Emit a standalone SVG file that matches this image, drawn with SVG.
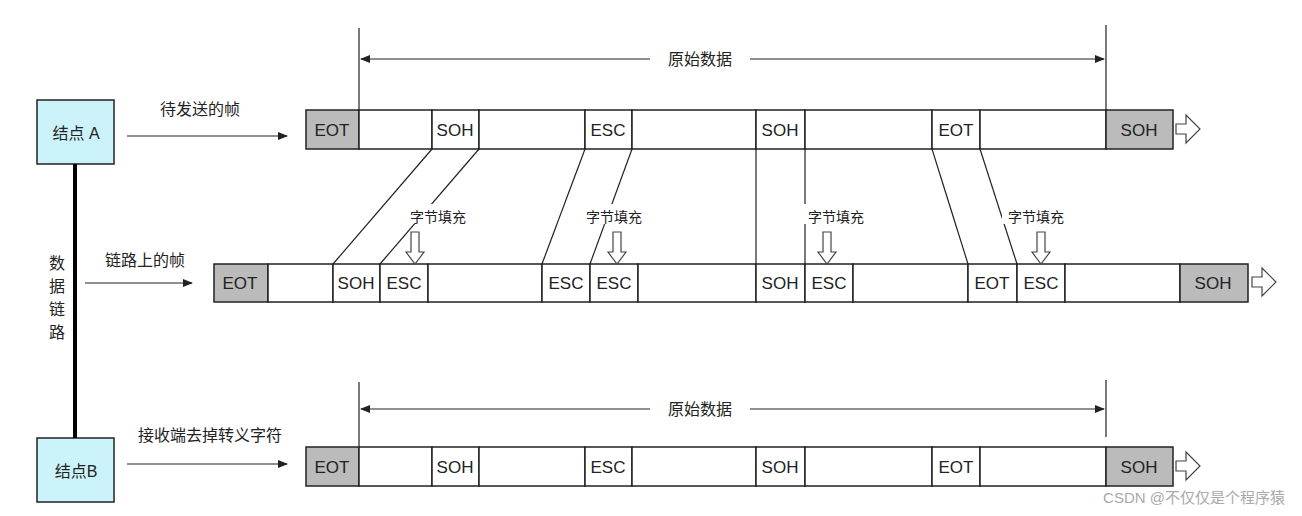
<svg xmlns="http://www.w3.org/2000/svg" width="1302" height="516" viewBox="0 0 1302 516">
<style>
text{font-family:"Liberation Sans","Noto Sans CJK SC",sans-serif;fill:#222}
.c{fill:#fff;stroke:#222;stroke-width:1.5}
.g{fill:#bbb;stroke:#222;stroke-width:1.5}
.t{font-size:17px;text-anchor:middle}
.l{stroke:#222;stroke-width:1.2;fill:none}
.h{fill:#fff;stroke:#444;stroke-width:1.2}
.s{font-size:14px;text-anchor:middle}
.cn{font-size:16px;text-anchor:middle}
</style>
<defs>
<marker id="a" markerWidth="10" markerHeight="8" refX="9" refY="4" orient="auto" markerUnits="userSpaceOnUse"><path d="M0,0 L10,4 L0,8 z" fill="#222"/></marker>
</defs>
<rect width="1302" height="516" fill="#fff"/>
<g id="nodeA"><rect x="37" y="100" width="77" height="64" fill="#ccf3fa" stroke="#222" stroke-width="1.5"/><text class="cn" x="76" y="139">结点 A</text></g>
<g id="nodeB"><rect x="37" y="438" width="77" height="64" fill="#ccf3fa" stroke="#222" stroke-width="1.5"/><text class="cn" x="76" y="477">结点B</text></g>
<g id="link"><line x1="75" y1="164" x2="75" y2="438" stroke="#000" stroke-width="4"/>
<text class="cn" x="57" y="269">数</text><text class="cn" x="57" y="292">据</text><text class="cn" x="57" y="315">链</text><text class="cn" x="57" y="338">路</text></g>
<g id="frame1">
<rect class="g" x="306" y="110" width="53" height="39"/><rect class="c" x="359" y="110" width="73" height="39"/><rect class="c" x="432" y="110" width="47" height="39"/><rect class="c" x="479" y="110" width="106" height="39"/><rect class="c" x="585" y="110" width="47" height="39"/><rect class="c" x="632" y="110" width="124" height="39"/><rect class="c" x="756" y="110" width="49" height="39"/><rect class="c" x="805" y="110" width="127" height="39"/><rect class="c" x="932" y="110" width="48" height="39"/><rect class="c" x="980" y="110" width="126" height="39"/><rect class="g" x="1106" y="110" width="67" height="39"/>
<text class="t" x="332" y="136">EOT</text><text class="t" x="455" y="136">SOH</text><text class="t" x="608" y="136">ESC</text><text class="t" x="780" y="136">SOH</text><text class="t" x="956" y="136">EOT</text><text class="t" x="1139" y="136">SOH</text>
<path class="h" d="M1176,124 h10 v-9 l14,14 l-14,14 v-9 h-10 z"/></g>
<g id="frame2">
<rect class="g" x="214" y="264" width="54" height="38"/><rect class="c" x="268" y="264" width="65" height="38"/><rect class="c" x="333" y="264" width="47" height="38"/><rect class="c" x="380" y="264" width="48" height="38"/><rect class="c" x="428" y="264" width="114" height="38"/><rect class="c" x="542" y="264" width="48" height="38"/><rect class="c" x="590" y="264" width="48" height="38"/><rect class="c" x="638" y="264" width="118" height="38"/><rect class="c" x="756" y="264" width="49" height="38"/><rect class="c" x="805" y="264" width="48" height="38"/><rect class="c" x="853" y="264" width="115" height="38"/><rect class="c" x="968" y="264" width="49" height="38"/><rect class="c" x="1017" y="264" width="48" height="38"/><rect class="c" x="1065" y="264" width="115" height="38"/><rect class="g" x="1180" y="264" width="68" height="38"/>
<text class="t" x="240" y="289">EOT</text><text class="t" x="356" y="289">SOH</text><text class="t" x="404" y="289">ESC</text><text class="t" x="566" y="289">ESC</text><text class="t" x="614" y="289">ESC</text><text class="t" x="780" y="289">SOH</text><text class="t" x="829" y="289">ESC</text><text class="t" x="992" y="289">EOT</text><text class="t" x="1041" y="289">ESC</text><text class="t" x="1213" y="289">SOH</text>
<path class="h" d="M1252,277 h10 v-9 l14,14 l-14,14 v-9 h-10 z"/></g>
<g id="frame3">
<rect class="g" x="306" y="447" width="53" height="39"/><rect class="c" x="359" y="447" width="73" height="39"/><rect class="c" x="432" y="447" width="47" height="39"/><rect class="c" x="479" y="447" width="106" height="39"/><rect class="c" x="585" y="447" width="47" height="39"/><rect class="c" x="632" y="447" width="124" height="39"/><rect class="c" x="756" y="447" width="49" height="39"/><rect class="c" x="805" y="447" width="127" height="39"/><rect class="c" x="932" y="447" width="48" height="39"/><rect class="c" x="980" y="447" width="126" height="39"/><rect class="g" x="1106" y="447" width="67" height="39"/>
<text class="t" x="332" y="473">EOT</text><text class="t" x="455" y="473">SOH</text><text class="t" x="608" y="473">ESC</text><text class="t" x="780" y="473">SOH</text><text class="t" x="956" y="473">EOT</text><text class="t" x="1139" y="473">SOH</text>
<path class="h" d="M1176,461 h10 v-9 l14,14 l-14,14 v-9 h-10 z"/></g>
<g id="connectors">
<line class="l" x1="127" y1="136" x2="287" y2="136" marker-end="url(#a)"/>
<line class="l" x1="85" y1="283" x2="192" y2="283" marker-end="url(#a)"/>
<line class="l" x1="127" y1="464" x2="287" y2="464" marker-end="url(#a)"/>
<line class="l" x1="359" y1="28" x2="359" y2="110"/><line class="l" x1="1106" y1="25" x2="1106" y2="110"/>
<line class="l" x1="650" y1="59" x2="361" y2="59" marker-end="url(#a)"/><line class="l" x1="750" y1="59" x2="1104" y2="59" marker-end="url(#a)"/>
<line class="l" x1="359" y1="382" x2="359" y2="447"/><line class="l" x1="1106" y1="380" x2="1106" y2="437"/>
<line class="l" x1="650" y1="409" x2="361" y2="409" marker-end="url(#a)"/><line class="l" x1="750" y1="409" x2="1104" y2="409" marker-end="url(#a)"/>
<line class="l" x1="432" y1="149" x2="333" y2="264"/><line class="l" x1="479" y1="149" x2="380" y2="264"/>
<line class="l" x1="585" y1="149" x2="542" y2="264"/><line class="l" x1="632" y1="149" x2="590" y2="264"/>
<line class="l" x1="756" y1="149" x2="756" y2="264"/><line class="l" x1="805" y1="149" x2="805" y2="264"/>
<line class="l" x1="932" y1="149" x2="968" y2="264"/><line class="l" x1="980" y1="149" x2="1017" y2="264"/>
<g fill="#fff"><rect x="404" y="204" width="68" height="20"/><rect x="580" y="204" width="68" height="20"/><rect x="802" y="204" width="68" height="20"/><rect x="1002" y="204" width="68" height="20"/></g>
<path class="h" d="M411,232 h8 v20 h5 l-9,12 l-9,-12 h5 z"/>
<path class="h" d="M613,232 h8 v20 h5 l-9,12 l-9,-12 h5 z"/>
<path class="h" d="M823,232 h8 v20 h5 l-9,12 l-9,-12 h5 z"/>
<path class="h" d="M1037,232 h8 v20 h5 l-9,12 l-9,-12 h5 z"/>
</g>
<g id="labels">
<text class="cn" x="700" y="65">原始数据</text><text class="cn" x="700" y="415">原始数据</text>
<text class="cn" x="200" y="115">待发送的帧</text><text class="cn" x="145" y="266">链路上的帧</text><text class="cn" x="210" y="441">接收端去掉转义字符</text>
<text class="s" x="438" y="222">字节填充</text><text class="s" x="614" y="222">字节填充</text><text class="s" x="836" y="222">字节填充</text><text class="s" x="1036" y="222">字节填充</text>
<text x="1285" y="503" font-size="15" text-anchor="end" style="fill:#aaa">CSDN @不仅仅是个程序猿</text>
</g>
</svg>
